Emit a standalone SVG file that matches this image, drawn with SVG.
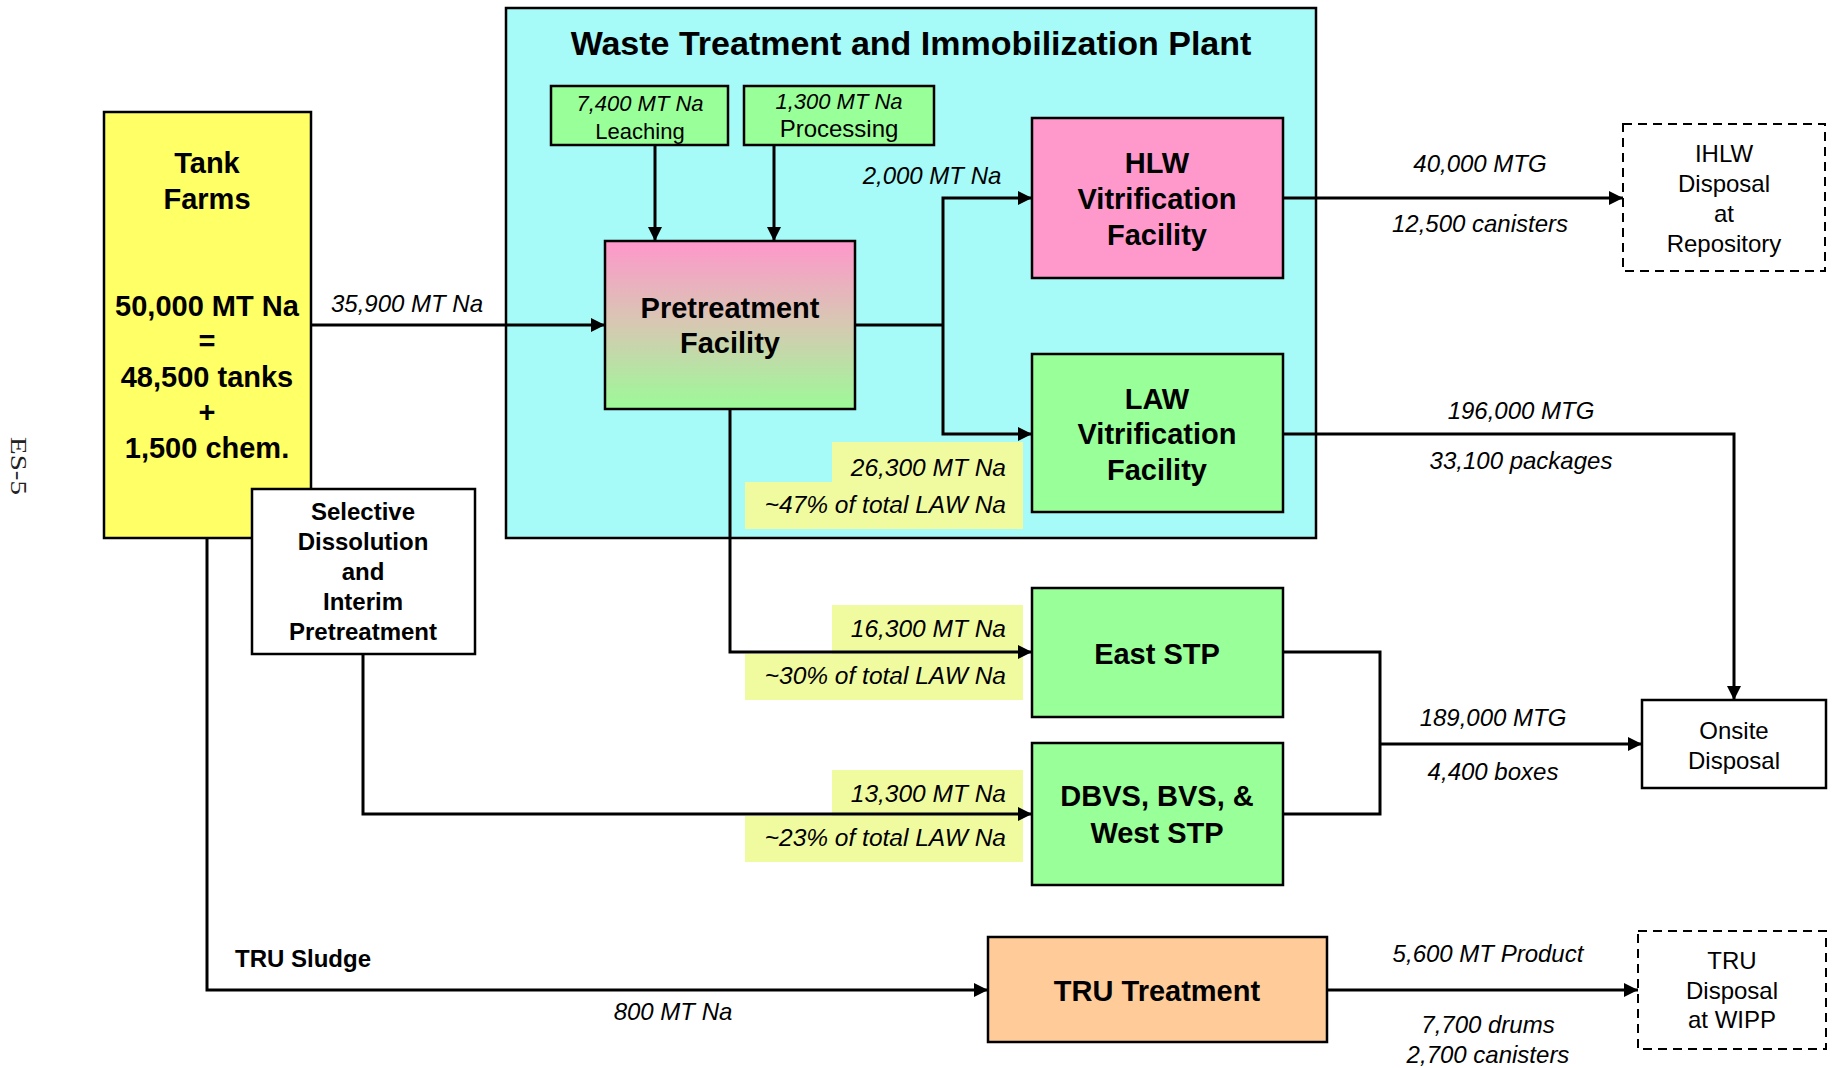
<svg xmlns="http://www.w3.org/2000/svg" width="1832" height="1068" viewBox="0 0 1832 1068">
<defs>
<linearGradient id="pg" x1="0" y1="0" x2="0" y2="1">
<stop offset="0" stop-color="#FF97CB"/>
<stop offset="0.5" stop-color="#D6C9B2"/>
<stop offset="1" stop-color="#9CFA98"/>
</linearGradient>
<marker id="ah" markerUnits="userSpaceOnUse" markerWidth="15" markerHeight="15" refX="14" refY="7" orient="auto">
<path d="M0,0 L14,7 L0,14 Z" fill="#000"/>
</marker>
<style>
.box{stroke:#000;stroke-width:2.5}
.dash{fill:#fff;stroke:#000;stroke-width:2;stroke-dasharray:9,6}
.b{font-family:"Liberation Sans",Arial,sans-serif;font-weight:bold;fill:#000;text-anchor:middle}
.r{font-family:"Liberation Sans",Arial,sans-serif;fill:#000;text-anchor:middle}
.i{font-family:"Liberation Sans",Arial,sans-serif;font-style:italic;fill:#000;text-anchor:middle;font-size:24px}
.pc{font-family:"Liberation Sans",Arial,sans-serif;font-style:italic;fill:#000;text-anchor:end;font-size:24.5px}
.lbl{fill:#F0FBA0}
.c{fill:none;stroke:#000;stroke-width:3}
.ca{fill:none;stroke:#000;stroke-width:3;marker-end:url(#ah)}
</style>
</defs>
<rect width="1832" height="1068" fill="#fff"/>
<text transform="translate(11,437) rotate(90)" font-family="Liberation Serif,Times New Roman,serif" font-size="23" textLength="58" lengthAdjust="spacingAndGlyphs" fill="#222">ES-5</text>

<g id="wtp">
<rect x="506" y="8" width="810" height="530" fill="#A6FAF7" class="box"/>
<text x="911" y="55" class="b" font-size="34">Waste Treatment and Immobilization Plant</text>
</g>

<g id="tank-farms">
<rect x="104" y="112" width="207" height="426" fill="#FFFF66" class="box"/>
<text class="b" font-size="29"><tspan x="207" y="173">Tank</tspan><tspan x="207" y="209">Farms</tspan><tspan x="207" y="316">50,000 MT Na</tspan><tspan x="207" y="351">=</tspan><tspan x="207" y="387">48,500 tanks</tspan><tspan x="207" y="422">+</tspan><tspan x="207" y="458">1,500 chem.</tspan></text>
</g>

<g id="selective">
<rect x="252" y="489" width="223" height="165" fill="#fff" class="box"/>
<text class="b" font-size="24"><tspan x="363" y="520">Selective</tspan><tspan x="363" y="550">Dissolution</tspan><tspan x="363" y="580">and</tspan><tspan x="363" y="610">Interim</tspan><tspan x="363" y="640">Pretreatment</tspan></text>
</g>

<g id="leaching">
<rect x="551" y="86" width="177" height="59" fill="#99FF99" class="box"/>
<text x="640" y="111" class="i" style="font-size:22px">7,400 MT Na</text>
<text x="640" y="139" class="r" font-size="22">Leaching</text>
</g>

<g id="processing">
<rect x="744" y="86" width="190" height="59" fill="#99FF99" class="box"/>
<text x="839" y="109" class="i" style="font-size:22px">1,300 MT Na</text>
<text x="839" y="137" class="r" font-size="24">Processing</text>
</g>

<g id="pretreatment">
<rect x="605" y="241" width="250" height="168" fill="url(#pg)" class="box"/>
<text class="b" font-size="29"><tspan x="730" y="318">Pretreatment</tspan><tspan x="730" y="353">Facility</tspan></text>
</g>

<g id="hlw">
<rect x="1032" y="118" width="251" height="160" fill="#FF99CC" class="box"/>
<text class="b" font-size="29"><tspan x="1157" y="173">HLW</tspan><tspan x="1157" y="209">Vitrification</tspan><tspan x="1157" y="245">Facility</tspan></text>
</g>

<g id="law">
<rect x="1032" y="354" width="251" height="158" fill="#99FF99" class="box"/>
<text class="b" font-size="29"><tspan x="1157" y="409">LAW</tspan><tspan x="1157" y="444">Vitrification</tspan><tspan x="1157" y="480">Facility</tspan></text>
</g>

<g id="east-stp">
<rect x="1032" y="588" width="251" height="129" fill="#99FF99" class="box"/>
<text x="1157" y="664" class="b" font-size="29">East STP</text>
</g>

<g id="dbvs">
<rect x="1032" y="743" width="251" height="142" fill="#99FF99" class="box"/>
<text class="b" font-size="29"><tspan x="1157" y="806">DBVS, BVS, &amp;</tspan><tspan x="1157" y="843">West STP</tspan></text>
</g>

<g id="tru-treatment">
<rect x="988" y="937" width="339" height="105" fill="#FFCC99" class="box"/>
<text x="1157" y="1001" class="b" font-size="29">TRU Treatment</text>
</g>

<g id="ihlw">
<rect x="1623" y="124" width="202" height="147" class="dash"/>
<text class="r" font-size="24"><tspan x="1724" y="162">IHLW</tspan><tspan x="1724" y="192">Disposal</tspan><tspan x="1724" y="222">at</tspan><tspan x="1724" y="252">Repository</tspan></text>
</g>

<g id="onsite">
<rect x="1642" y="700" width="184" height="88" fill="#fff" class="box"/>
<text class="r" font-size="24"><tspan x="1734" y="739">Onsite</tspan><tspan x="1734" y="769">Disposal</tspan></text>
</g>

<g id="tru-disposal">
<rect x="1638" y="931" width="188" height="118" class="dash"/>
<text class="r" font-size="24"><tspan x="1732" y="969">TRU</tspan><tspan x="1732" y="999">Disposal</tspan><tspan x="1732" y="1028">at WIPP</tspan></text>
</g>

<g id="labels">
<path class="lbl" d="M832,442 H1023 V529 H745 V482 H832 Z"/>
<path class="lbl" d="M832,605 H1023 V700 H745 V654 H832 Z"/>
<path class="lbl" d="M832,770 H1023 V862 H745 V816 H832 Z"/>
<text x="1006" y="476" class="pc">26,300 MT Na</text>
<text x="1006" y="513" class="pc">~47% of total LAW Na</text>
<text x="1006" y="637" class="pc">16,300 MT Na</text>
<text x="1006" y="684" class="pc">~30% of total LAW Na</text>
<text x="1006" y="802" class="pc">13,300 MT Na</text>
<text x="1006" y="846" class="pc">~23% of total LAW Na</text>
</g>

<g id="connectors">
<line x1="311" y1="325" x2="605" y2="325" class="ca"/>
<line x1="655" y1="145" x2="655" y2="241" class="ca"/>
<line x1="774" y1="145" x2="774" y2="241" class="ca"/>
<path d="M855,325 H943" class="c"/>
<path d="M943,325 V198 H1032" class="ca"/>
<path d="M943,325 V434 H1032" class="ca"/>
<path d="M730,409 V652 H1032" class="ca"/>
<path d="M363,654 V814 H1032" class="ca"/>
<path d="M207,538 V990 H988" class="ca"/>
<line x1="1283" y1="198" x2="1623" y2="198" class="ca"/>
<path d="M1283,434 H1734 V700" class="ca"/>
<path d="M1283,652 H1380 V814 H1283" class="c"/>
<line x1="1380" y1="744" x2="1642" y2="744" class="ca"/>
<line x1="1327" y1="990" x2="1638" y2="990" class="ca"/>
<text x="407" y="312" class="i">35,900 MT Na</text>
<text x="932" y="184" class="i">2,000 MT Na</text>
<text x="1480" y="172" class="i">40,000 MTG</text>
<text x="1480" y="232" class="i">12,500 canisters</text>
<text x="1521" y="419" class="i">196,000 MTG</text>
<text x="1521" y="469" class="i">33,100 packages</text>
<text x="1493" y="726" class="i">189,000 MTG</text>
<text x="1493" y="780" class="i">4,400 boxes</text>
<text x="1488" y="962" class="i">5,600 MT Product</text>
<text x="1488" y="1033" class="i">7,700 drums</text>
<text x="1488" y="1063" class="i">2,700 canisters</text>
<text x="235" y="967" class="b" font-size="24" style="text-anchor:start">TRU Sludge</text>
<text x="673" y="1020" class="i">800 MT Na</text>
</g>
</svg>
